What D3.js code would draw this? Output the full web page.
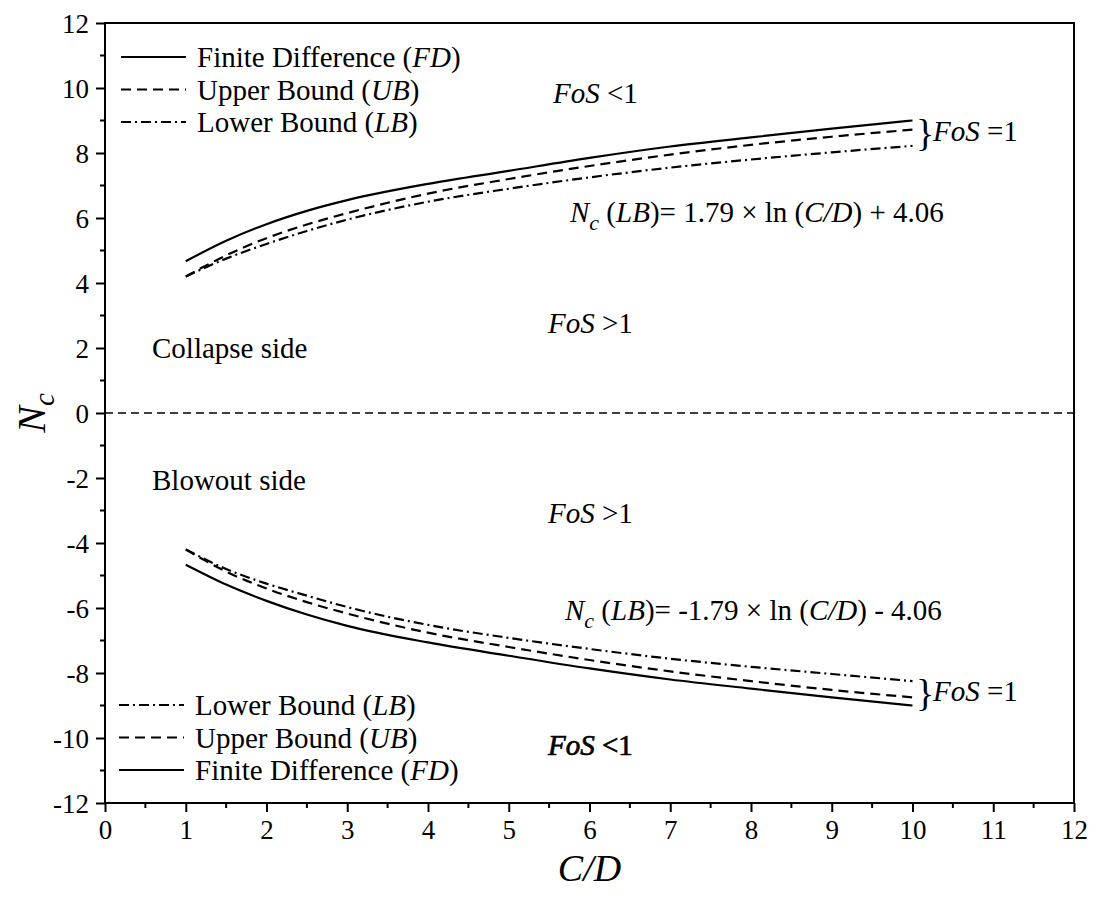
<!DOCTYPE html>
<html>
<head>
<meta charset="utf-8">
<script src="https://cdn.jsdelivr.net/npm/d3@7"></script>
<style>
  body { margin: 0; background: #fff; }
  svg, svg text { font-family: "Liberation Serif", "Times New Roman", serif; }
  .tick text { font-size: 27px; fill: #000; }
</style>
</head>
<body>
<svg id="chart" width="1097" height="900"></svg>
<script>
// C/D values and Nc readings
var cd = [1, 1.5, 2, 2.5, 3, 4, 5, 6, 7, 8, 9, 10];

var fdTop = [4.67, 5.30, 5.81, 6.22, 6.55, 7.05, 7.45, 7.85, 8.20, 8.48, 8.75, 9.00];
var ubTop = [4.20, 4.85, 5.38, 5.80, 6.15, 6.75, 7.20, 7.60, 7.95, 8.25, 8.50, 8.72];
var lbTop = [4.20, 4.75, 5.20, 5.60, 5.95, 6.50, 6.90, 7.25, 7.55, 7.80, 8.02, 8.22];

var fdBot = [-4.67, -5.28, -5.78, -6.20, -6.55, -7.06, -7.47, -7.86, -8.20, -8.48, -8.75, -9.00];
var ubBot = [-4.20, -4.88, -5.40, -5.82, -6.17, -6.76, -7.20, -7.60, -7.95, -8.25, -8.52, -8.75];
var lbBot = [-4.20, -4.80, -5.25, -5.62, -5.97, -6.52, -6.92, -7.26, -7.56, -7.81, -8.03, -8.25];

var xTicks = d3.range(0, 13, 1);
var yTicks = d3.range(-12, 13, 2);

var margin = { top: 23, right: 23, bottom: 97, left: 105 };
var svg = d3.select('#chart');
var W = 1097, H = 900;
var width = W - margin.left - margin.right,
    height = H - margin.top - margin.bottom;

var x = d3.scaleLinear().domain([0, 12]).range([0, width]);
var y = d3.scaleLinear().domain([-12, 12]).range([height, 0]);

var g = svg.append('g').attr('transform', 'translate(' + margin.left + ',' + margin.top + ')');

// zero line
g.append('line')
  .attr('x1', 0).attr('x2', width)
  .attr('y1', y(0)).attr('y2', y(0))
  .attr('stroke', '#000').attr('stroke-width', 1.6)
  .attr('stroke-dasharray', '8,5');

var line = d3.line()
  .x(function (d) { return x(d[0]); })
  .y(function (d) { return y(d[1]); })
  .curve(d3.curveMonotoneX);

var styles = { fd: null, ub: '10,6', lb: '10,4,2,4' };

function drawSeries(vals, dash) {
  g.append('path')
    .datum(cd.map(function (c, i) { return [c, vals[i]]; }))
    .attr('d', line)
    .attr('fill', 'none')
    .attr('stroke', '#000')
    .attr('stroke-width', 2.2)
    .attr('stroke-dasharray', dash);
}
drawSeries(fdTop, styles.fd);
drawSeries(ubTop, styles.ub);
drawSeries(lbTop, styles.lb);
drawSeries(fdBot, styles.fd);
drawSeries(ubBot, styles.ub);
drawSeries(lbBot, styles.lb);

// axes (plain hyphen for negatives)
var fmt = function (d) { return String(d); };
var xAxis = d3.axisBottom(x).tickValues(xTicks).tickSize(9).tickPadding(3).tickFormat(fmt);
var yAxis = d3.axisLeft(y).tickValues(yTicks).tickSize(9).tickPadding(7).tickFormat(fmt);

var gx = g.append('g').attr('transform', 'translate(0,' + height + ')').call(xAxis);
var gy = g.append('g').call(yAxis);

// minor ticks
gx.selectAll('.minor').data(d3.range(0.5, 12, 1)).enter().append('line')
  .attr('x1', function (d) { return x(d); }).attr('x2', function (d) { return x(d); })
  .attr('y1', 0).attr('y2', 5).attr('stroke', '#000').attr('stroke-width', 2);
gy.selectAll('.minor').data(d3.range(-11, 12, 2)).enter().append('line')
  .attr('y1', function (d) { return y(d); }).attr('y2', function (d) { return y(d); })
  .attr('x1', 0).attr('x2', -5).attr('stroke', '#000').attr('stroke-width', 2);

[gx, gy].forEach(function (a) {
  a.attr('font-family', null).attr('font-size', null);
  a.select('.domain').remove();
  a.selectAll('.tick line').attr('stroke-width', 2);
});
gy.selectAll('.tick text').attr('dy', '0.34em');
gx.selectAll('.tick text').attr('dy', '0.9em');

// frame
g.append('rect')
  .attr('x', 0).attr('y', 0).attr('width', width).attr('height', height)
  .attr('fill', 'none').attr('stroke', '#000').attr('stroke-width', 2);

// legends
var legendTop = [
  { label: 'Finite Difference', abbr: 'FD', dash: styles.fd },
  { label: 'Upper Bound', abbr: 'UB', dash: styles.ub },
  { label: 'Lower Bound', abbr: 'LB', dash: styles.lb }
];
var legendBot = legendTop.slice().reverse();

function drawLegend(items, x0, y0) {
  var lg = svg.append('g').attr('transform', 'translate(' + x0 + ',' + y0 + ')');
  var rows = lg.selectAll('g').data(items).enter().append('g')
    .attr('transform', function (d, i) { return 'translate(0,' + (i * 32.5) + ')'; });
  rows.append('line')
    .attr('x1', 0).attr('x2', 65).attr('y1', 0).attr('y2', 0)
    .attr('stroke', '#000').attr('stroke-width', 2)
    .attr('stroke-dasharray', function (d) { return d.dash; });
  var t = rows.append('text').attr('x', 76).attr('y', 10).attr('font-size', 29);
  t.append('tspan').text(function (d) { return d.label + ' ('; });
  t.append('tspan').attr('font-style', 'italic').text(function (d) { return d.abbr; });
  t.append('tspan').text(')');
}
drawLegend(legendTop, 121, 57);
drawLegend(legendBot, 119, 705);

function fosLabel(px, py, rel, heavy) {
  var t = svg.append('text').attr('x', px).attr('y', py).attr('font-size', 29);
  if (heavy) t.attr('stroke', '#000').attr('stroke-width', 0.7);
  t.append('tspan').attr('font-style', 'italic').text('FoS');
  t.append('tspan').text(' ' + rel);
}
fosLabel(553, 103, '<1');
fosLabel(548, 333, '>1');
fosLabel(548, 523, '>1');
fosLabel(548, 755, '<1', true);

function braceLabel(px, py) {
  svg.append('text').attr('x', px).attr('y', py).attr('font-size', 38).text('}');
  fosLabel(px + 17, py - 5, '=1');
}
braceLabel(916, 146);
braceLabel(916, 706);

function equation(px, py, sign, tail) {
  var t = svg.append('text').attr('x', px).attr('y', py).attr('font-size', 29);
  t.append('tspan').attr('font-style', 'italic').text('N');
  t.append('tspan').attr('font-style', 'italic').attr('font-size', 22).attr('dy', 8).text('c');
  t.append('tspan').attr('dy', -8).text(' (');
  t.append('tspan').attr('font-style', 'italic').text('LB');
  t.append('tspan').text(')= ' + sign + '1.79 \u00d7 ln (');
  t.append('tspan').attr('font-style', 'italic').text('C/D');
  t.append('tspan').text(') ' + tail);
}
equation(570, 222, '', '+ 4.06');
equation(565, 620, '-', '- 4.06');

svg.append('text').attr('x', 152).attr('y', 358).attr('font-size', 29).text('Collapse side');
svg.append('text').attr('x', 152).attr('y', 490).attr('font-size', 29).text('Blowout side');

// axis titles
svg.append('text').attr('x', margin.left + width / 2).attr('y', 881)
  .attr('text-anchor', 'middle').attr('font-size', 38).attr('font-style', 'italic').text('C/D');

var yt = svg.append('text').attr('transform', 'translate(45,' + (margin.top + y(0)) + ') rotate(-90)')
  .attr('text-anchor', 'middle').attr('font-size', 40).attr('font-style', 'italic');
yt.append('tspan').text('N');
yt.append('tspan').attr('font-size', 29).attr('dy', 9).text('c');
</script>
</body>
</html>
